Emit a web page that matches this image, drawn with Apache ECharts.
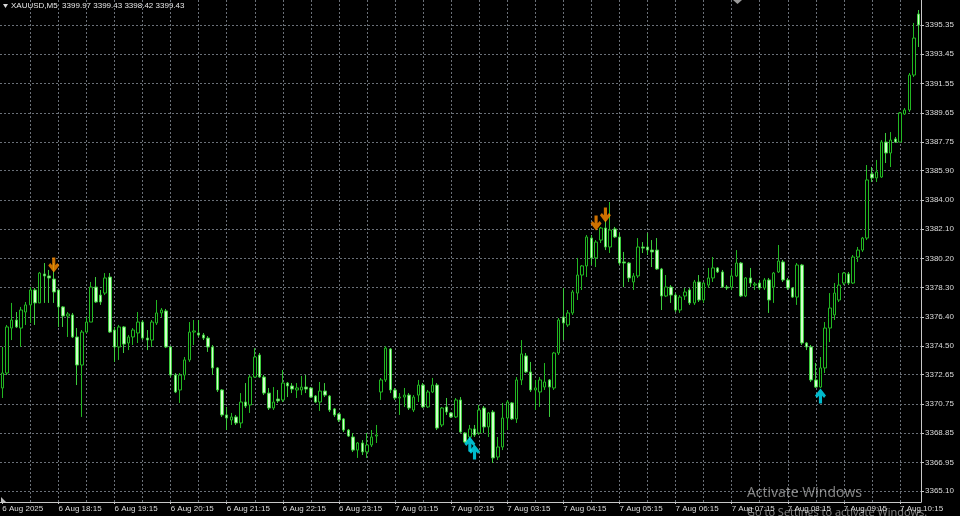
<!DOCTYPE html>
<html>
<head>
<meta charset="utf-8">
<script src="https://cdn.jsdelivr.net/npm/echarts@6/dist/echarts.min.js"></script>
<style>
html,body{margin:0;padding:0;background:#000;}
#chart{width:960px;height:516px;}
</style>
</head>
<body>
<div id="chart"></div>
<script>
// M5 bar times (6 Aug 17:15 .. 23:55, 7 Aug 01:00 .. 10:35)
const categories = [
'17:15','17:20','17:25','17:30','17:35','17:40','17:45','17:50','17:55',
'18:00','18:05','18:10','18:15','18:20','18:25','18:30','18:35','18:40','18:45','18:50','18:55',
'19:00','19:05','19:10','19:15','19:20','19:25','19:30','19:35','19:40','19:45','19:50','19:55',
'20:00','20:05','20:10','20:15','20:20','20:25','20:30','20:35','20:40','20:45','20:50','20:55',
'21:00','21:05','21:10','21:15','21:20','21:25','21:30','21:35','21:40','21:45','21:50','21:55',
'22:00','22:05','22:10','22:15','22:20','22:25','22:30','22:35','22:40','22:45','22:50','22:55',
'23:00','23:05','23:10','23:15','23:20','23:25','23:30','23:35','23:40','23:45','23:50','23:55',
'01:00','01:05','01:10','01:15','01:20','01:25','01:30','01:35','01:40','01:45','01:50','01:55',
'02:00','02:05','02:10','02:15','02:20','02:25','02:30','02:35','02:40','02:45','02:50','02:55',
'03:00','03:05','03:10','03:15','03:20','03:25','03:30','03:35','03:40','03:45','03:50','03:55',
'04:00','04:05','04:10','04:15','04:20','04:25','04:30','04:35','04:40','04:45','04:50','04:55',
'05:00','05:05','05:10','05:15','05:20','05:25','05:30','05:35','05:40','05:45','05:50','05:55',
'06:00','06:05','06:10','06:15','06:20','06:25','06:30','06:35','06:40','06:45','06:50','06:55',
'07:00','07:05','07:10','07:15','07:20','07:25','07:30','07:35','07:40','07:45','07:50','07:55',
'08:00','08:05','08:10','08:15','08:20','08:25','08:30','08:35','08:40','08:45','08:50','08:55',
'09:00','09:05','09:10','09:15','09:20','09:25','09:30','09:35','09:40','09:45','09:50','09:55',
'10:00','10:05','10:10','10:15','10:20','10:25','10:30','10:35'
];

const opens = [
3371.79,3372.76,3375.68,3376.20,3375.68,3376.72,3377.18,3378.15,3377.31,3379.19,
3379.06,3378.86,3378.15,3377.05,3376.46,3376.53,3375.10,3373.28,3375.42,3376.07,
3378.34,3377.82,3377.95,3378.99,3375.55,3374.45,3375.75,3374.71,3375.10,3375.36,
3376.07,3375.03,3374.90,3376.01,3376.66,3376.79,3374.45,3372.63,3371.66,3372.63,
3373.61,3375.42,3375.36,3375.23,3375.03,3374.45,3373.09,3371.66,3370.04,3369.71,
3369.91,3369.52,3370.88,3370.69,3372.50,3373.93,3372.50,3371.46,3370.49,3371.07,
3371.01,3372.11,3371.92,3371.66,3371.66,3371.85,3371.79,3371.27,3370.88,3371.59,
3371.27,3370.43,3370.10,3369.78,3369.06,3368.61,3367.76,3368.22,3367.64,3368.09,
3368.67,3371.53,3372.31,3374.32,3371.66,3371.14,3371.20,3371.33,3370.36,3371.33,
3371.98,3370.56,3371.53,3371.98,3369.39,3370.56,3370.17,3369.91,3371.01,3368.87,
3368.61,3369.13,3368.87,3370.49,3369.26,3370.23,3367.31,3367.96,3369.84,3370.82,
3369.78,3372.31,3373.87,3372.83,3371.66,3371.53,3371.85,3372.31,3371.79,3374.06,
3376.40,3375.88,3376.66,3377.95,3379.12,3379.71,3381.52,3380.23,3381.39,3382.17,
3380.94,3382.11,3381.59,3379.97,3379.90,3378.67,3379.06,3380.94,3380.94,3380.74,
3380.74,3379.51,3377.76,3378.34,3377.82,3376.85,3377.76,3378.15,3377.31,3378.67,
3377.50,3378.47,3378.93,3379.58,3379.32,3378.34,3378.34,3379.06,3379.90,3377.76,
3378.93,3378.47,3378.60,3378.28,3378.80,3378.34,3379.32,3379.97,3378.80,3378.28,
3377.69,3379.77,3374.71,3374.45,3372.31,3371.85,3373.09,3375.68,3376.53,3377.50,
3378.60,3379.19,3378.60,3380.29,3380.74,3381.52,3385.68,3385.42,3385.48,3387.75,
3387.04,3387.95,3387.75,3389.57,3389.83,3392.10,3396.06
];
const closes = [
3372.76,3375.75,3376.20,3375.75,3376.85,3377.18,3378.15,3377.31,3379.25,3379.06,
3378.93,3378.02,3377.05,3376.46,3376.59,3375.10,3373.28,3375.42,3376.07,3378.34,
3377.37,3377.37,3378.93,3375.42,3374.45,3375.75,3374.64,3375.10,3375.55,3376.07,
3375.03,3374.90,3376.07,3376.66,3376.85,3374.45,3372.63,3371.53,3372.63,3373.61,
3375.42,3375.49,3375.23,3375.03,3374.45,3373.09,3371.66,3370.04,3369.84,3369.91,
3369.52,3370.88,3370.62,3372.50,3373.80,3372.50,3371.46,3370.49,3370.88,3370.95,
3372.11,3371.92,3371.72,3371.79,3371.85,3371.72,3371.20,3370.88,3371.59,3371.33,
3370.36,3370.04,3369.71,3369.06,3368.67,3367.76,3368.22,3367.64,3368.09,3368.61,
3368.74,3372.31,3374.38,3371.66,3371.14,3371.20,3371.33,3370.49,3371.20,3371.98,
3370.56,3371.53,3371.98,3369.19,3370.49,3370.23,3369.91,3371.01,3368.93,3368.28,
3369.13,3368.74,3370.36,3369.26,3370.17,3367.25,3367.96,3369.84,3370.88,3369.78,
3372.31,3374.00,3372.83,3371.66,3371.79,3372.31,3372.18,3371.85,3374.06,3376.20,
3376.01,3376.66,3378.02,3379.12,3379.71,3381.59,3380.23,3381.26,3382.17,3380.94,
3382.04,3381.59,3379.90,3379.90,3378.93,3379.06,3380.94,3380.87,3380.74,3380.62,
3379.51,3377.76,3378.34,3377.82,3376.85,3377.69,3378.02,3377.31,3378.67,3377.50,
3378.60,3378.93,3379.58,3379.32,3378.34,3378.28,3379.06,3379.90,3377.76,3378.93,
3378.60,3378.54,3378.28,3378.80,3377.50,3379.25,3380.03,3378.80,3378.28,3377.69,
3379.77,3374.71,3374.45,3372.31,3371.85,3373.09,3375.68,3376.98,3377.95,3378.47,
3379.25,3378.60,3380.29,3380.74,3381.52,3385.29,3385.42,3385.81,3387.75,3387.04,
3387.88,3387.75,3389.64,3389.83,3392.10,3394.50,3395.35
];
const highs = [
3374.45,3375.88,3377.31,3376.72,3377.05,3377.37,3378.34,3378.28,3379.32,3379.90,
3379.45,3379.90,3378.15,3377.11,3376.72,3376.66,3375.68,3375.55,3376.40,3378.67,
3378.99,3378.15,3379.25,3379.25,3375.75,3375.88,3375.81,3375.23,3375.68,3376.72,
3376.20,3375.55,3376.20,3377.50,3376.98,3376.92,3374.51,3372.76,3372.76,3373.80,
3376.07,3376.20,3376.20,3375.36,3375.16,3374.58,3373.15,3371.72,3370.56,3370.17,
3370.04,3371.46,3372.11,3372.63,3374.38,3374.06,3372.63,3371.79,3371.85,3371.66,
3372.96,3372.18,3372.11,3372.11,3372.57,3372.63,3371.85,3371.33,3372.18,3372.11,
3371.33,3370.49,3370.17,3369.84,3369.13,3368.87,3368.28,3368.41,3368.87,3369.06,
3369.39,3372.44,3374.51,3374.38,3371.79,3371.46,3371.79,3371.46,3371.33,3372.31,
3372.11,3371.66,3372.44,3372.11,3370.56,3371.14,3370.23,3371.14,3371.20,3368.93,
3369.39,3369.39,3370.69,3370.62,3370.23,3370.36,3368.61,3370.82,3371.01,3370.88,
3372.50,3374.90,3374.06,3373.48,3372.31,3372.50,3373.41,3372.37,3374.13,3376.33,
3378.28,3376.85,3378.15,3380.23,3379.77,3381.72,3381.72,3381.39,3382.24,3382.69,
3383.86,3382.24,3381.85,3380.62,3379.97,3379.25,3381.52,3381.26,3381.85,3381.39,
3381.52,3379.58,3379.12,3378.47,3377.95,3377.82,3378.28,3378.28,3378.80,3379.12,
3378.67,3379.58,3380.29,3379.64,3379.45,3378.47,3379.45,3380.74,3379.97,3378.99,
3379.58,3378.67,3378.80,3378.93,3378.93,3379.32,3381.07,3380.10,3378.93,3378.34,
3379.90,3379.84,3374.77,3374.58,3373.41,3373.80,3376.07,3377.95,3378.60,3379.25,
3379.32,3379.32,3380.42,3380.94,3381.59,3386.26,3386.13,3386.59,3387.88,3388.34,
3388.40,3388.08,3389.70,3389.96,3392.23,3395.48,3396.32
];
const lows = [
3371.14,3372.63,3374.90,3375.68,3374.45,3375.88,3376.01,3375.88,3377.31,3377.31,
3377.31,3377.31,3375.75,3375.75,3375.10,3375.03,3371.98,3369.91,3375.36,3376.07,
3377.31,3377.18,3377.82,3375.36,3373.48,3373.61,3374.06,3374.25,3374.58,3374.71,
3374.90,3374.25,3374.45,3375.88,3376.40,3374.38,3372.50,3371.46,3370.82,3372.31,
3373.48,3374.58,3375.10,3374.90,3374.13,3372.63,3371.53,3369.91,3369.06,3369.39,
3369.39,3369.19,3370.49,3370.17,3372.44,3372.44,3371.33,3370.36,3370.36,3370.82,
3370.88,3371.20,3371.46,3371.14,3371.33,3371.46,3371.14,3370.82,3370.30,3371.20,
3370.23,3369.91,3369.58,3368.93,3368.61,3367.64,3367.25,3367.44,3367.25,3367.96,
3368.22,3371.01,3372.18,3371.46,3371.01,3370.04,3370.56,3370.36,3370.23,3370.88,
3370.49,3370.49,3371.46,3369.06,3369.26,3370.04,3369.84,3369.84,3368.87,3368.22,
3368.41,3368.61,3368.74,3368.87,3368.61,3366.92,3367.12,3367.76,3369.06,3369.71,
3369.52,3371.98,3372.76,3371.53,3370.36,3370.56,3371.66,3369.91,3371.66,3373.93,
3374.90,3375.75,3376.53,3377.50,3378.15,3378.99,3379.77,3379.64,3381.20,3380.74,
3380.55,3381.52,3379.77,3378.34,3378.67,3378.15,3378.93,3380.55,3380.42,3379.64,
3379.45,3376.85,3377.69,3377.31,3376.72,3376.66,3377.50,3377.18,3377.18,3377.37,
3377.31,3378.28,3378.67,3379.25,3378.28,3378.15,3378.15,3378.99,3377.69,3377.69,
3378.34,3378.15,3378.15,3378.15,3376.66,3377.31,3379.25,3378.67,3378.15,3377.63,
3377.18,3374.58,3374.25,3372.18,3371.79,3371.79,3372.76,3374.77,3376.20,3377.37,
3378.47,3378.47,3378.54,3379.97,3380.62,3381.39,3385.16,3385.16,3385.42,3386.39,
3386.13,3387.69,3387.75,3389.51,3389.70,3391.97,3393.92
];

// price scale (right axis)
const yMin = 3364.39;
const yMax = 3396.97;
const yTicks = [3395.35,3393.45,3391.55,3389.65,3387.75,3385.90,3384.00,3382.10,3380.20,
                3378.30,3376.40,3374.50,3372.65,3370.75,3368.85,3366.95,3365.10];

// time scale labels (bar index + text)
const xTickIdx = [0,12,24,36,48,60,72,84,96,108,120,132,144,156,168,180,192];
const xTickLabels = ['6 Aug 2025','6 Aug 18:15','6 Aug 19:15','6 Aug 20:15','6 Aug 21:15','6 Aug 22:15',
  '6 Aug 23:15','7 Aug 01:15','7 Aug 02:15','7 Aug 03:15','7 Aug 04:15','7 Aug 05:15','7 Aug 06:15',
  '7 Aug 07:15','7 Aug 08:15','7 Aug 09:15','7 Aug 10:15'];
const xGridIdx = [6,12,18,24,30,36,42,48,54,60,66,72,78,84,90,96,102,108,114,120,126,132,138,144,
  150,156,162,168,174,180,186,192];

// signal arrows
const sellArrowIdx = [11,127,129];
const sellArrowPrice = [3379.77,3382.50,3383.02];
const buyArrowIdx = [100,101,175];
const buyArrowPrice = [3368.15,3367.64,3371.27];

const chart = echarts.init(document.getElementById('chart'), null, {renderer:'canvas'});
const candleData = categories.map((c, i) => [opens[i], closes[i], lows[i], highs[i]]);
const gridColor = '#6a7078';
const axisColor = '#c8c8c8';
const textColor = '#dcdcdc';
const font = 'Liberation Sans';

const downArrow = 'path://M3.4,0 L6.6,0 L6.6,7.2 L8.6,5.2 L10.6,7.4 L5,14 L-0.6,7.4 L1.4,5.2 L3.4,7.2 Z';
const upArrow = 'path://M3.4,14 L6.6,14 L6.6,6.8 L8.6,8.8 L10.6,6.6 L5,0 L-0.6,6.6 L1.4,8.8 L3.4,6.8 Z';

chart.setOption({
  backgroundColor: '#000000',
  animation: false,
  grid: {left: 0, right: 39, top: 0, bottom: 14, containLabel: false, outerBoundsMode: 'none'},
  xAxis: {
    type: 'category', data: categories, boundaryGap: true,
    axisLine: {show: true, lineStyle: {color: axisColor, width: 1}},
    axisTick: {show: true, alignWithLabel: true, length: 2,
      interval: (i) => xTickIdx.indexOf(i) >= 0, lineStyle: {color: axisColor}},
    axisLabel: {show: true, interval: (i) => xTickIdx.indexOf(i) >= 0,
      formatter: (v, i) => xTickLabels[xTickIdx.indexOf(i)],
      align: 'left', color: textColor, fontSize: 8, fontFamily: font, margin: 3},
    splitLine: {show: false}
  },
  yAxis: {
    type: 'value', position: 'right', min: yMin, max: yMax, scale: true,
    axisLine: {show: true, lineStyle: {color: axisColor, width: 1}},
    axisTick: {show: true, customValues: yTicks, length: 3, lineStyle: {color: axisColor}},
    axisLabel: {show: true, customValues: yTicks, formatter: (v) => v.toFixed(2),
      color: textColor, fontSize: 8, fontFamily: font, margin: 4},
    splitLine: {show: false}
  },
  series: [
    {
      type: 'candlestick', data: candleData, barWidth: 3, z: 3,
      itemStyle: {color: '#000000', color0: '#d2ffcc', borderColor: '#22b822', borderColor0: '#3ccc3c', borderWidth: 1},
      emphasis: {disabled: true},
      markLine: {
        silent: true, z: 1, symbol: ['none', 'none'], animation: false,
        label: {show: false},
        lineStyle: {color: gridColor, type: [2, 2], width: 1},
        emphasis: {disabled: true},
        data: yTicks.map(v => ({yAxis: v})).concat(xGridIdx.map(i => ({xAxis: categories[i]})))
      }
    },
    {
      type: 'scatter', z: 5, symbol: downArrow, symbolSize: [11, 15],
      itemStyle: {color: '#ff8c00'},
      data: sellArrowIdx.map((i, k) => [i, sellArrowPrice[k]])
    },
    {
      type: 'scatter', z: 5, symbol: upArrow, symbolSize: [11, 15],
      itemStyle: {color: '#00e8ff'},
      data: buyArrowIdx.map((i, k) => [i, buyArrowPrice[k]])
    }
  ],
  graphic: [
    {type: 'polygon', shape: {points: [[3, 4], [8, 4], [5.5, 8]]}, style: {fill: '#d8d8d8'}},
    {type: 'text', x: 11, y: 2, style: {text: 'XAUUSD,M5  3399.97 3399.43 3398.42 3399.43',
      fill: '#e8e8e8', font: '8px "Liberation Sans"'}},
    {type: 'polygon', shape: {points: [[733, 0], [742, 0], [737.5, 4]]}, style: {fill: '#9a9a9a'}},
    {type: 'polygon', shape: {points: [[1, 497], [1, 502], [6, 502]]}, style: {fill: '#bdbdbd'}},
    {type: 'text', x: 747, y: 486, z: 100, style: {text: 'Activate Windows',
      fill: 'rgba(255,255,255,0.5)', font: '14px "Open Sans"'}},
    {type: 'text', x: 747, y: 507, z: 100, style: {text: 'Go to Settings to activate Windows.',
      fill: 'rgba(255,255,255,0.5)', font: '11px "Open Sans"'}}
  ]
});
</script>
</body>
</html>
